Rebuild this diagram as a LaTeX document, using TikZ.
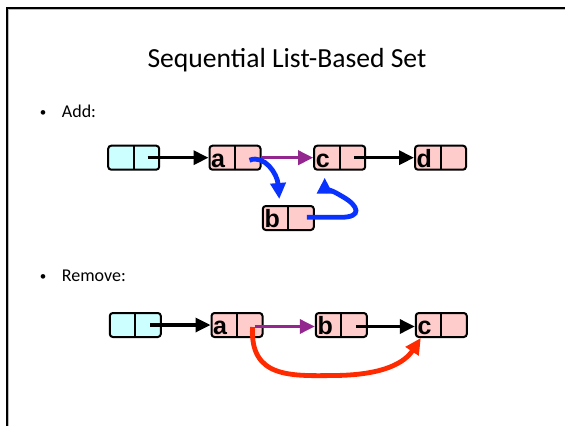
\documentclass[tikz,border=0pt]{standalone}
\usepackage{fontspec}
\setmainfont{Carlito}
\newfontfamily\lblfont{Liberation Sans}
\usetikzlibrary{arrows.meta,calc}
\definecolor{cyanfill}{HTML}{CCFFFF}
\definecolor{pinkfill}{HTML}{FFCCCC}
\definecolor{purp}{HTML}{93278F}
\definecolor{blu}{HTML}{0A32FF}
\definecolor{rd}{HTML}{FF2A00}
\definecolor{shadowgray}{HTML}{BBBBBB}
\begin{document}
\begin{tikzpicture}[x=1pt,y=-1pt,
  cell/.style={draw=black, line width=2pt, rounded corners=3pt,
    minimum width=51pt, minimum height=24pt, inner sep=0pt},
  headcell/.style={cell, fill=cyanfill},
  listcell/.style={cell, fill=pinkfill},
  divider/.style={line width=2pt, shorten <=1pt, shorten >=1pt},
  lbl/.style={font=\lblfont\bfseries\fontsize{25}{25}\selectfont,
    inner sep=0pt, anchor=base west},
  ptr/.style={line width=3.3pt, -{Triangle[length=15pt,width=14pt]}},
  blackptr/.style={ptr, draw=black},
  purpptr/.style={ptr, draw=purp, -{Triangle[length=15pt,width=14pt,fill=purp]}},
  blueptr/.style={line width=4.8pt, draw=blu, -{Triangle[length=16pt,width=15pt,fill=blu]}},
  redptr/.style={line width=4.8pt, draw=rd, -{Triangle[length=16pt,width=15pt,fill=rd]}},
  bullettext/.style={font=\fontsize{18}{18}\selectfont, anchor=base west, inner sep=0pt},
  bulletdot/.style={font=\fontsize{13}{13}\selectfont, anchor=base, inner sep=0pt}
]
\useasboundingbox (0,0) rectangle (565,426);
\fill[white] (0,0) rectangle (565,426);

% slide frame
\draw[shadowgray, line width=1pt] (8.8,426) -- (8.8,9.7) -- (565,9.7);
\draw[black, line width=2.3pt] (7,426) -- (7,7.8) -- (565,7.8);

% title
\node[font=\fontsize{27.6}{27.6}\selectfont, anchor=base, inner sep=0pt] (title) at (287,67) {Sequential List-Based Set};

% bullets
\node[bulletdot] (dot1) at (43,116) {•};
\node[bullettext] (addtxt) at (61.7,117.3) {Add:};
\node[bulletdot] (dot2) at (43,280.2) {•};
\node[bullettext] (remtxt) at (61.7,281.5) {Remove:};

% ---------- Add ----------
\node[headcell] (h1) at (133.7,157.7) {};
\node[listcell] (a1) at (235,157.7) {};
\node[listcell] (c1) at (339.7,157.7) {};
\node[listcell] (d1) at (440.5,157.7) {};
\node[listcell] (b1) at (288.3,218) {};
\foreach \n in {h1,a1,c1,d1,b1} \draw[divider] (\n.north) -- (\n.south);
\node[lbl] (la1) at ([xshift=2.5pt,yshift=3.5pt]a1.south west) {a};
\node[lbl] (lc1) at ([xshift=2.5pt,yshift=3.5pt]c1.south west) {c};
\node[lbl] (ld1) at ([xshift=2.5pt,yshift=3.5pt]d1.south west) {d};
\node[lbl] (lb1) at ([xshift=2.5pt,yshift=3.5pt]b1.south west) {b};

\draw[blackptr] ($(h1.east)+(-12.5,0)$) -- (a1.west);
\draw[purpptr] (a1.east) -- (c1.west);
\draw[blackptr] ($(c1.east)+(-12,0)$) -- (d1.west);
\draw[blueptr] ($(a1.east)+(-12,2.5)$) .. controls +(15,-6) and +(-2,-25) .. ($(b1.north)+(-9,-6)$);
\draw[blueptr] ($(b1.east)+(-8,-0.7)$) -- ++(34,0)
  .. controls +(22,0) and +(16,9) .. ($(c1.south)+(3,26)$)
  .. controls +(-10,-6) and +(0,9) .. ($(c1.south)+(-15,7)$);

% ---------- Remove ----------
\node[headcell] (h2) at (135.3,325) {};
\node[listcell] (a2) at (237,325) {};
\node[listcell] (b2) at (341.3,325) {};
\node[listcell] (c2) at (441.3,325) {};
\foreach \n in {h2,a2,b2,c2} \draw[divider] (\n.north) -- (\n.south);
\node[lbl] (la2) at ([xshift=2.5pt,yshift=3.5pt]a2.south west) {a};
\node[lbl] (lb2) at ([xshift=2.5pt,yshift=3.5pt]b2.south west) {b};
\node[lbl] (lc2) at ([xshift=2.5pt,yshift=3.5pt]c2.south west) {c};

\draw[blackptr] ($(h2.east)+(-11.5,0)$) -- (a2.west);
\draw[purpptr] ($(a2.east)+(-9,1.5)$) -- ($(b2.west)+(0,1.5)$);
\draw[blackptr] ($(b2.east)+(-12,1.5)$) -- ($(c2.west)+(0,1.5)$);
\draw[redptr] ($(a2.east)+(-11,2)$) .. controls (250,378) and (290,376) .. (335,375.5)
  .. controls (385,375) and (405,362) .. ($(c2.south west)+(6,0)$);

% keep the right and bottom edges open, as on the reference slide
\fill[white] (555,11) rectangle (565,426);
\end{tikzpicture}
\end{document}
